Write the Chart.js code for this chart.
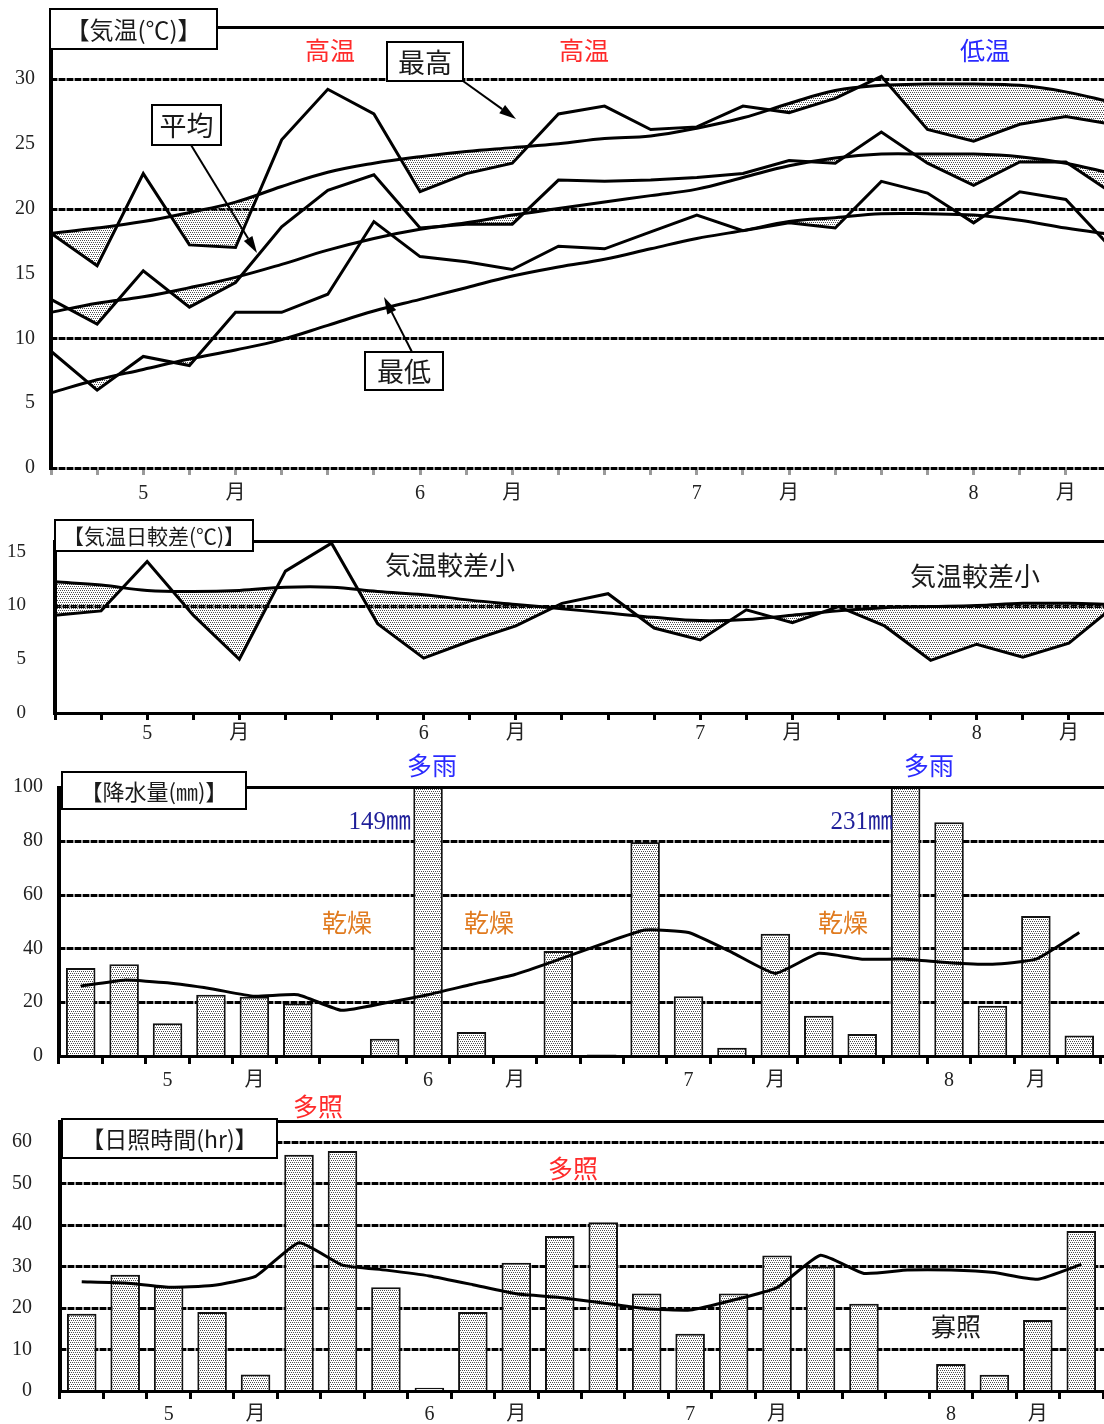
<!DOCTYPE html>
<html lang="ja">
<head>
<meta charset="utf-8">
<title>気象経過</title>
<script src="https://cdn.jsdelivr.net/npm/chart.js@4.4.1/dist/chart.umd.min.js"></script>
<style>
  html, body { margin: 0; padding: 0; background: #fff; overflow: hidden; }
  #page { position: relative; width: 1104px; height: 1424px; overflow: hidden; background: #fff; }
  #page canvas { position: absolute; left: 0; }
</style>
</head>
<body>
<div id="page">
  <canvas id="cTemp"  width="1140" height="510" style="top:0px"></canvas>
  <canvas id="cRange" width="1140" height="250" style="top:510px"></canvas>
  <canvas id="cRain"  width="1104" height="355" style="top:745px"></canvas>
  <canvas id="cSun"   width="1104" height="334" style="top:1090px"></canvas>
</div>
<script>
// ---- 半旬 (5-day) periods, May to August: month names sit on the 3rd and 5th period ----
const periodLabels = ['', '', '5', '', '月', '', '', '', '6', '', '月', '',
                      '', '', '7', '', '月', '', '', '', '8', '', '月', ''];

// ---- 気温 (°C): observed and normal ----
const tempMax       = [18.1, 15.6, 22.7, 17.2, 17.0, 25.3, 29.2, 27.3, 21.3, 22.7, 23.5, 27.3,
                       27.9, 26.1, 26.3, 27.9, 27.4, 28.5, 30.2, 26.1, 25.2, 26.5, 27.1, 26.5];
const tempMaxNormal = [18.1, 18.5, 19.0, 19.7, 20.5, 21.7, 22.8, 23.5, 24.0, 24.4, 24.7, 25.0,
                       25.4, 25.6, 26.2, 27.0, 28.1, 29.1, 29.5, 29.6, 29.6, 29.5, 29.0, 28.2];
const tempAvg       = [13.0, 11.1, 15.2, 12.4, 14.3, 18.6, 21.4, 22.6, 18.5, 18.8, 18.8, 22.2,
                       22.1, 22.2, 22.4, 22.7, 23.7, 23.5, 25.9, 23.5, 21.8, 23.6, 23.6, 21.2];
const tempAvgNormal = [12.0, 12.7, 13.2, 13.9, 14.7, 15.7, 16.8, 17.7, 18.4, 18.9, 19.5, 20.0,
                       20.5, 21.0, 21.5, 22.4, 23.3, 23.9, 24.2, 24.2, 24.2, 24.0, 23.5, 22.7];
const tempMin       = [9.0, 6.0, 8.6, 7.9, 12.0, 12.0, 13.4, 19.0, 16.3, 15.9, 15.3, 17.1,
                       16.9, 18.2, 19.5, 18.3, 18.9, 18.5, 22.1, 21.2, 18.9, 21.3, 20.7, 16.9];
const tempMinNormal = [5.8, 6.8, 7.6, 8.4, 9.1, 9.9, 11.0, 12.1, 13.0, 13.9, 14.8, 15.5,
                       16.1, 16.9, 17.7, 18.3, 19.0, 19.3, 19.6, 19.6, 19.5, 19.1, 18.5, 18.0];

// ---- 気温日較差 (°C) ----
const rangeObs    = [9.1, 9.5, 14.1, 9.1, 5.0, 13.2, 15.8, 8.3, 5.1, 6.7, 8.1, 10.2,
                     11.1, 7.9, 6.8, 9.6, 8.4, 9.9, 8.1, 4.9, 6.4, 5.2, 6.5, 10.0];
const rangeNormal = [12.2, 11.9, 11.4, 11.3, 11.4, 11.7, 11.7, 11.3, 11.0, 10.5, 10.1, 9.7,
                     9.3, 8.9, 8.6, 8.7, 9.1, 9.5, 9.8, 9.9, 10.0, 10.2, 10.2, 10.1];

// ---- 降水量 (mm) ----
const rainObs    = [32.7, 34.1, 12.2, 22.8, 22.0, 19.5, 0, 6.4, 149, 8.9, 0, 39.0,
                    0.6, 79.5, 22.2, 3.1, 45.4, 15.0, 8.2, 231, 86.9, 18.7, 52.0, 7.6];
const rainNormal = [26.0, 28.2, 27.2, 25.0, 22.2, 22.8, 17.0, 19.7, 22.8, 26.6, 30.3, 35.8,
                    41.6, 46.8, 45.9, 38.5, 30.7, 38.2, 36.0, 36.0, 34.7, 34.1, 36.0, 45.9];

// ---- 日照時間 (hr) ----
const sunObs    = [18.6, 28.0, 25.2, 19.0, 4.0, 56.9, 57.8, 25.0, 0.8, 19.0, 30.9, 37.3,
                   40.6, 23.5, 13.8, 23.5, 32.6, 30.0, 21.0, 0, 6.5, 3.9, 17.1, 38.5];
const sunNormal = [26.3, 26.0, 25.0, 25.4, 27.6, 35.7, 30.3, 29.1, 27.7, 25.6, 23.4, 22.5,
                   21.2, 19.8, 19.5, 21.9, 24.9, 32.7, 28.3, 29.1, 29.1, 28.5, 26.9, 30.5];

const SERIF = '"Liberation Serif", "Noto Sans CJK JP", serif';
const JP = '"Noto Sans CJK JP", "Noto Sans", sans-serif';
const RED = '#ff2a2a', BLUE = '#2a2aff', NAVY = '#1f1f99', ORANGE = '#e07b20', INK = '#1a1a1a';

// fine stipple used for bars (opaque) and for below-normal shading (transparent)
function stipple(opaque) {
  const c = document.createElement('canvas');
  c.width = 4; c.height = 4;
  const g = c.getContext('2d');
  if (opaque) { g.fillStyle = '#fff'; g.fillRect(0, 0, 4, 4); }
  g.fillStyle = '#505050';
  [[0, 0], [2, 0], [1, 2], [3, 2]].forEach(([x, y]) => g.fillRect(x, y, 1, 1));
  return g.createPattern(c, 'repeat');
}
const barFill = stipple(true);
const shadeFill = stipple(false);
const CLEAR = 'rgba(0,0,0,0)';

// ---- drawing helpers ----
function text(ctx, str, x, y, size, color, align, family) {
  ctx.save();
  ctx.font = size + 'px ' + (family || JP);
  ctx.fillStyle = color;
  ctx.textAlign = align || 'center';
  ctx.textBaseline = 'middle';
  ctx.fillText(str, x, y);
  ctx.restore();
}
function boxed(ctx, str, x, y, w, h, size) {
  ctx.save();
  ctx.fillStyle = '#fff';
  ctx.fillRect(x, y, w, h);
  ctx.lineWidth = 2;
  ctx.strokeStyle = '#000';
  ctx.strokeRect(x, y, w, h);
  ctx.restore();
  text(ctx, str, x + w / 2, y + h / 2 + 1, size, INK);
}
function arrow(ctx, x1, y1, x2, y2) {
  const a = Math.atan2(y2 - y1, x2 - x1), L = 17, W = 5;
  const bx = x2 - L * Math.cos(a), by = y2 - L * Math.sin(a);
  ctx.save();
  ctx.strokeStyle = '#000'; ctx.fillStyle = '#000'; ctx.lineWidth = 2;
  ctx.beginPath(); ctx.moveTo(x1, y1); ctx.lineTo(bx, by); ctx.stroke();
  ctx.beginPath();
  ctx.moveTo(x2, y2);
  ctx.lineTo(bx + W * Math.sin(a), by - W * Math.cos(a));
  ctx.lineTo(bx - W * Math.sin(a), by + W * Math.cos(a));
  ctx.closePath(); ctx.fill();
  ctx.restore();
}

// frame, reference lines and notes of one panel
function decor(p) {
  return {
    id: 'decor',
    beforeDatasetsDraw(chart) {
      const { ctx, chartArea: a, scales: { y } } = chart;
      ctx.save();
      p.dashed.forEach(v => {
        const py = Math.round(y.getPixelForValue(v)) + 0.5;
        ctx.setLineDash([]);
        ctx.strokeStyle = '#9a9a9a';
        ctx.lineWidth = 3;
        ctx.beginPath(); ctx.moveTo(a.left, py); ctx.lineTo(chart.width, py); ctx.stroke();
        ctx.setLineDash([6, 2]);
        ctx.strokeStyle = '#000';
        ctx.beginPath(); ctx.moveTo(a.left, py); ctx.lineTo(chart.width, py); ctx.stroke();
      });
      ctx.restore();
    },
    afterDatasetsDraw(chart) {
      const { ctx, chartArea: a, scales: { y } } = chart;
      const top = Math.round(y.getPixelForValue(y.max)) + 0.5;
      const bot = Math.round(y.getPixelForValue(0)) + 0.5;
      ctx.save();
      ctx.strokeStyle = '#000';
      ctx.lineWidth = 3;
      ctx.beginPath(); ctx.moveTo(a.left, top); ctx.lineTo(chart.width, top); ctx.stroke();
      if (p.solidBase) {
        ctx.beginPath(); ctx.moveTo(a.left, bot); ctx.lineTo(chart.width, bot); ctx.stroke();
      }
      ctx.lineWidth = 4;
      ctx.beginPath(); ctx.moveTo(a.left, top - 1.5); ctx.lineTo(a.left, bot + 1.5); ctx.stroke();
      ctx.restore();
    },
    afterDraw(chart) { if (p.notes) p.notes(chart.ctx); }
  };
}

function scales(p) {
  return {
    x: {
      type: 'category',
      offset: p.offset,
      grid: {
        display: true, drawOnChartArea: false, drawTicks: true, offset: p.offset,
        tickLength: p.tickLen, tickWidth: 3, lineWidth: 3, tickColor: p.tickColor, color: p.tickColor
      },
      border: { display: false },
      ticks: {
        autoSkip: false, maxRotation: 0, minRotation: 0, padding: p.xPad, color: '#222',
        font: { family: SERIF, size: 20 }
      },
      afterFit: s => { s.height = p.xHeight; }
    },
    y: {
      min: 0, max: p.yMax,
      grid: { display: false, drawTicks: false },
      border: { display: false },
      ticks: {
        stepSize: p.yStep, includeBounds: false, padding: p.yPad, color: '#222',
        font: { family: SERIF, size: p.ySize }
      },
      afterFit: s => { s.width = p.yWidth; s.paddingTop = 0; s.paddingBottom = 0; }
    }
  };
}

function common(pad) {
  return {
    responsive: false, animation: false, devicePixelRatio: 1,
    layout: { padding: pad },
    plugins: { legend: { display: false }, tooltip: { enabled: false } },
    elements: { point: { radius: 0 } }
  };
}

function obsLine(data, target) {
  return { data, borderColor: '#000', borderWidth: 3, tension: 0,
           fill: { target, above: CLEAR, below: shadeFill }, backgroundColor: CLEAR };
}
function normLine(data, tension) {
  return { data, borderColor: '#000', borderWidth: 3, tension, fill: false };
}

// ================= 気温 =================
new Chart(document.getElementById('cTemp'), {
  type: 'line',
  data: {
    labels: periodLabels,
    datasets: [
      normLine(tempMaxNormal, 0.4), obsLine(tempMax, 0),
      normLine(tempAvgNormal, 0.4), obsLine(tempAvg, 2),
      normLine(tempMinNormal, 0.4), obsLine(tempMin, 4)
    ]
  },
  options: Object.assign(common({ top: 27, right: 28, left: 0, bottom: 0 }), {
    scales: scales({ offset: false, tickLen: 7, tickColor: '#9a9a9a', xPad: 7, xHeight: 42,
                     yMax: 34, yStep: 5, yPad: 16, ySize: 20, yWidth: 51 })
  }),
  plugins: [decor({
    dashed: [0, 10, 20, 30], solidBase: false,
    notes(ctx) {
      boxed(ctx, '【気温(℃)】', 50, 9, 167, 40, 24);
      text(ctx, '高温', 330, 50, 25, RED);
      text(ctx, '高温', 584, 50, 25, RED);
      text(ctx, '低温', 985, 50, 25, BLUE);
      arrow(ctx, 463, 81, 516, 119);
      boxed(ctx, '最高', 387, 42, 76, 39, 27);
      arrow(ctx, 191, 145, 257, 253);
      boxed(ctx, '平均', 152, 105, 69, 40, 27);
      arrow(ctx, 412, 352, 384, 297);
      boxed(ctx, '最低', 365, 352, 78, 38, 27);
    }
  })]
});

// ================= 気温日較差 =================
new Chart(document.getElementById('cRange'), {
  type: 'line',
  data: {
    labels: periodLabels,
    datasets: [normLine(rangeNormal, 0.4), obsLine(rangeObs, 0)]
  },
  options: Object.assign(common({ top: 31, right: 25, left: 0, bottom: 0 }), {
    scales: scales({ offset: false, tickLen: 7, tickColor: '#000', xPad: 2, xHeight: 47,
                     yMax: 16, yStep: 5, yPad: 29, ySize: 19, yWidth: 55 })
  }),
  plugins: [decor({
    dashed: [10], solidBase: true,
    notes(ctx) {
      boxed(ctx, '【気温日較差(℃)】', 55, 10, 198, 31, 21);
      text(ctx, '気温較差小', 450, 55, 26, INK);
      text(ctx, '気温較差小', 975, 66, 26, INK);
    }
  })]
});

// ================= 降水量 =================
new Chart(document.getElementById('cRain'), {
  type: 'bar',
  data: {
    labels: periodLabels,
    datasets: [
      { type: 'line', data: rainNormal, borderColor: '#000', borderWidth: 3, tension: 0.15,
        fill: false, order: 0 },
      { type: 'bar', data: rainObs, backgroundColor: barFill, borderColor: '#111', borderWidth: 2,
        barPercentage: 0.68, categoryPercentage: 1.0, clip: 0, order: 1 }
    ]
  },
  options: Object.assign(common({ top: 42, right: 3, left: 0, bottom: 0 }), {
    scales: scales({ offset: true, tickLen: 8, tickColor: '#000', xPad: 5, xHeight: 44,
                     yMax: 100, yStep: 20, yPad: 16, ySize: 20, yWidth: 59 })
  }),
  plugins: [decor({
    dashed: [20, 40, 60, 80], solidBase: true,
    notes(ctx) {
      boxed(ctx, '【降水量(㎜)】', 62, 27, 184, 37, 22);
      text(ctx, '多雨', 432, 20, 25, BLUE);
      text(ctx, '多雨', 929, 20, 25, BLUE);
      text(ctx, '149㎜', 411, 77, 25, NAVY, 'right', SERIF);
      text(ctx, '231㎜', 893, 77, 25, NAVY, 'right', SERIF);
      text(ctx, '乾燥', 347, 177, 25, ORANGE);
      text(ctx, '乾燥', 489, 177, 25, ORANGE);
      text(ctx, '乾燥', 843, 177, 25, ORANGE);
    }
  })]
});

// ================= 日照時間 =================
new Chart(document.getElementById('cSun'), {
  type: 'bar',
  data: {
    labels: periodLabels,
    datasets: [
      { type: 'line', data: sunNormal, borderColor: '#000', borderWidth: 3, tension: 0.15,
        fill: false, order: 0 },
      { type: 'bar', data: sunObs, backgroundColor: barFill, borderColor: '#111', borderWidth: 2,
        barPercentage: 0.68, categoryPercentage: 1.0, clip: 0, order: 1 }
    ]
  },
  options: Object.assign(common({ top: 31, right: 1, left: 0, bottom: 0 }), {
    scales: scales({ offset: true, tickLen: 8, tickColor: '#000', xPad: 4, xHeight: 33,
                     yMax: 65, yStep: 10, yPad: 28, ySize: 20, yWidth: 60 })
  }),
  plugins: [decor({
    dashed: [10, 20, 30, 40, 50, 60], solidBase: true,
    notes(ctx) {
      boxed(ctx, '【日照時間(hr)】', 62, 29, 215, 39, 23);
      text(ctx, '多照', 318, 16, 25, RED);
      text(ctx, '多照', 573, 78, 25, RED);
      text(ctx, '寡照', 956, 236, 25, INK);
    }
  })]
});
</script>
</body>
</html>
